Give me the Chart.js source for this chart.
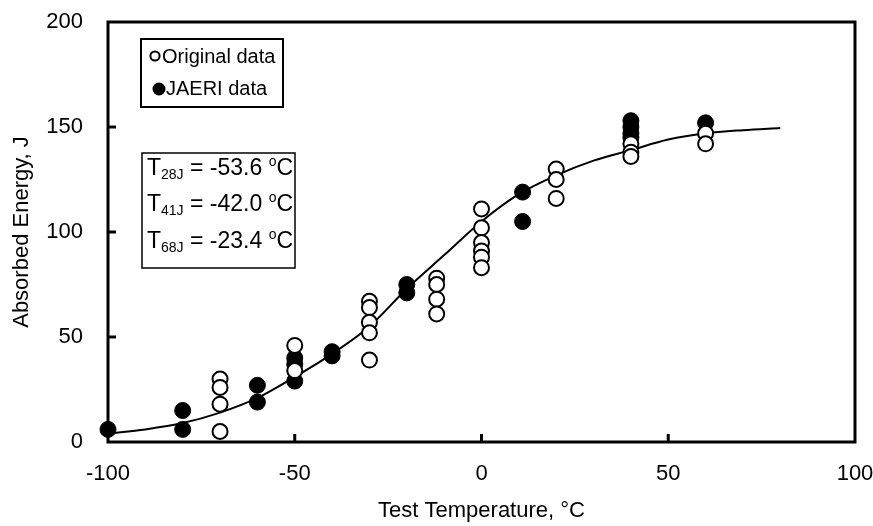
<!DOCTYPE html>
<html>
<head>
<meta charset="utf-8">
<script src="https://cdn.jsdelivr.net/npm/chart.js@4.4.1/dist/chart.umd.min.js"></script>
<style>
  html, body { margin: 0; padding: 0; background: #fff; }
</style>
</head>
<body>
<canvas id="charpy" width="873" height="526"></canvas>
<script>
// values
var origTemp   = [-70, -70, -70, -70, -50, -50, -30, -30, -30, -30, -30, -12, -12, -12, -12, 0, 0, 0, 0, 0, 0, 20, 20, 20, 40, 40, 40, 60, 60];
var origEnergy = [30, 26, 18, 5, 46, 34, 67, 64, 57, 52, 39, 78, 75, 68, 61, 111, 102, 95, 91, 88, 83, 130, 125, 116, 142, 138, 136, 147, 142];

var jaeriTemp   = [-100, -80, -80, -60, -60, -50, -50, -50, -40, -40, -20, -20, 11, 11, 40, 40, 40, 40, 60];
var jaeriEnergy = [6, 15, 6, 27, 19, 40, 37, 29, 43, 41, 75, 71, 119, 105, 153, 150, 147, 145, 152];

var fitTemp   = [-100, -90, -80, -70, -60, -50, -40, -30, -20, -10, 0, 10, 20, 30, 40, 50, 60, 70, 80];
var fitEnergy = [4, 6, 9, 14, 21, 31, 42, 55, 73, 89, 105, 118, 127, 134, 139, 144, 147, 148.5, 149.5];

var xTicks = [-100, -50, 0, 50, 100];
var yTicks = [0, 50, 100, 150, 200];

var transLabels = ["28J", "41J", "68J"];
var transValues = ["-53.6", "-42.0", "-23.4"];

var FONT = "'Liberation Sans', Arial, sans-serif";

function pts(xs, ys) {
  var out = [];
  for (var i = 0; i < xs.length; i++) out.push({x: xs[i], y: ys[i]});
  return out;
}

// frame and inside tick marks
var framePlugin = {
  id: 'frame',
  beforeDatasetsDraw: function(chart) {
    var c = chart.ctx, a = chart.chartArea;
    var sx = chart.scales.x, sy = chart.scales.y;
    c.save();
    c.strokeStyle = '#000';
    c.lineWidth = 3;
    c.strokeRect(a.left, a.top, a.right - a.left, a.bottom - a.top);
    c.beginPath();
    xTicks.slice(1, -1).forEach(function(v) {
      var px = sx.getPixelForValue(v);
      c.moveTo(px, a.bottom);
      c.lineTo(px, a.bottom - 8);
    });
    yTicks.slice(1, -1).forEach(function(v) {
      var py = sy.getPixelForValue(v);
      c.moveTo(a.left, py);
      c.lineTo(a.left + 8, py);
    });
    c.stroke();
    c.restore();
  }
};

// legend box and transition temperature box
var boxPlugin = {
  id: 'boxes',
  afterDatasetsDraw: function(chart) {
    var c = chart.ctx;
    var ds = chart.data.datasets;
    c.save();
    c.fillStyle = '#fff';
    c.strokeStyle = '#000';
    c.lineWidth = 2;
    c.fillRect(141, 39, 142, 68);
    c.strokeRect(141, 39, 142, 68);

    c.fillStyle = '#000';
    c.font = '20px ' + FONT;
    c.textBaseline = 'middle';
    c.beginPath();
    c.arc(155, 56, 4.6, 0, Math.PI * 2);
    c.lineWidth = 2;
    c.stroke();
    c.fillText(ds[0].label, 162, 57);
    c.beginPath();
    c.arc(159, 89, 6.5, 0, Math.PI * 2);
    c.fill();
    c.fillText(ds[1].label, 166, 89);

    c.fillStyle = '#fff';
    c.fillRect(142, 153, 153, 115);
    c.lineWidth = 1.5;
    c.strokeRect(142, 153, 153, 115);
    c.fillStyle = '#000';
    c.textBaseline = 'alphabetic';
    for (var i = 0; i < transLabels.length; i++) {
      var base = 174.5 + i * 36.8;
      var x = 147;
      c.font = '23px ' + FONT;
      c.fillText('T', x, base); x += c.measureText('T').width;
      c.font = '14px ' + FONT;
      c.fillText(transLabels[i], x, base + 4); x += c.measureText(transLabels[i]).width;
      c.font = '23px ' + FONT;
      var mid = ' = ' + transValues[i] + ' ';
      c.fillText(mid, x, base); x += c.measureText(mid).width;
      c.font = '14px ' + FONT;
      c.fillText('o', x, base - 9); x += c.measureText('o').width;
      c.font = '23px ' + FONT;
      c.fillText('C', x, base);
    }
    c.restore();
  }
};

var ctx = document.getElementById('charpy');
var chart = new Chart(ctx, {
  type: 'scatter',
  data: {
    datasets: [
      {
        label: 'Original data',
        data: pts(origTemp, origEnergy),
        pointRadius: 7.5,
        pointBorderWidth: 2,
        pointBackgroundColor: '#fff',
        pointBorderColor: '#000',
        order: 1,
        clip: false
      },
      {
        label: 'JAERI data',
        data: pts(jaeriTemp, jaeriEnergy),
        pointRadius: 8,
        pointBorderWidth: 1,
        pointBackgroundColor: '#000',
        pointBorderColor: '#000',
        order: 2,
        clip: false
      },
      {
        label: 'Fit',
        type: 'line',
        data: pts(fitTemp, fitEnergy),
        borderColor: '#000',
        borderWidth: 2,
        pointRadius: 0,
        fill: false,
        cubicInterpolationMode: 'monotone',
        order: 3
      }
    ]
  },
  options: {
    responsive: false,
    animation: false,
    devicePixelRatio: 1,
    layout: { padding: { top: 22, right: 18, left: 0, bottom: 0 } },
    plugins: { legend: { display: false }, tooltip: { enabled: false } },
    scales: {
      x: {
        type: 'linear',
        min: -100,
        max: 100,
        afterBuildTicks: function(s) { s.ticks = xTicks.map(function(v) { return {value: v}; }); },
        afterFit: function(s) { s.height = 84; s.paddingLeft = 0; s.paddingRight = 0; },
        grid: { display: false },
        border: { display: false },
        ticks: { color: '#000', padding: 11, maxRotation: 0, font: { family: FONT, size: 22 } },
        title: { display: true, text: 'Test Temperature, °C', color: '#000', padding: { top: 0, bottom: 2 }, font: { family: FONT, size: 22 } }
      },
      y: {
        min: 0,
        max: 200,
        afterBuildTicks: function(s) { s.ticks = yTicks.map(function(v) { return {value: v}; }); },
        afterFit: function(s) { s.width = 108; s.paddingTop = 0; s.paddingBottom = 0; },
        grid: { display: false },
        border: { display: false },
        ticks: { color: '#000', padding: 17, font: { family: FONT, size: 22 } },
        title: { display: true, text: 'Absorbed Energy, J', color: '#000', padding: { top: 9, bottom: 0 }, font: { family: FONT, size: 22 } }
      }
    }
  },
  plugins: [framePlugin, boxPlugin]
});
</script>
</body>
</html>
